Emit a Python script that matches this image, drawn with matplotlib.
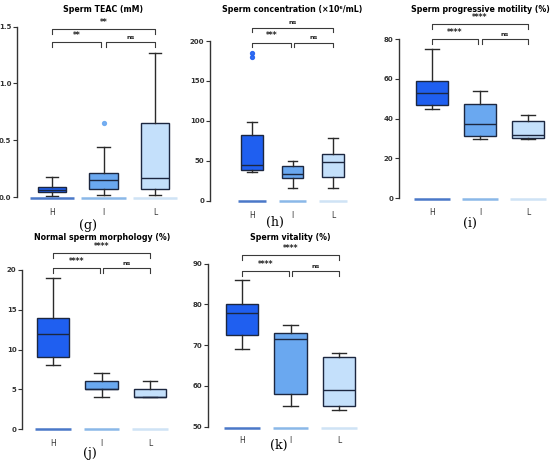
import matplotlib
matplotlib.use('Agg')
import matplotlib.pyplot as plt

W, H = 550, 462

groups = ['H', 'I', 'L']
box_colors = ['#1f5ff0', '#6aa8f0', '#c4e0fb']
base_colors = ['#4a78c8', '#8ab8e8', '#cfe3f5']
edge = '#1c2740'

# panel g - sperm TEAC
teac_lo = [0.01, 0.02, 0.02]
teac_q1 = [0.04, 0.07, 0.07]
teac_med = [0.06, 0.15, 0.17]
teac_q3 = [0.09, 0.21, 0.65]
teac_hi = [0.18, 0.44, 1.27]
teac_out = [[], [0.65], []]
teac_sig = ['**', '**', 'ns']   # H-L, H-I, I-L

# panel h - concentration
conc_lo = [36, 16, 16]
conc_q1 = [38, 29, 30]
conc_med = [45, 33, 49]
conc_q3 = [82, 43, 59]
conc_hi = [98, 50, 79]
conc_out = [[180, 185], [], []]
conc_sig = ['ns', '***', 'ns']

# panel i - progressive motility
mot_lo = [45, 30, 30]
mot_q1 = [47, 31.5, 30.2]
mot_med = [53, 37.5, 32]
mot_q3 = [59, 47.5, 39]
mot_hi = [75, 54, 42]
mot_out = [[], [], []]
mot_sig = ['****', '****', 'ns']

# panel j - morphology
morph_lo = [8, 4, 4]
morph_q1 = [9, 5, 4]
morph_med = [12, 5, 4]
morph_q3 = [14, 6, 5]
morph_hi = [19, 7, 6]
morph_out = [[], [], []]
morph_sig = ['****', '****', 'ns']

# panel k - vitality
vit_lo = [69, 55, 54]
vit_q1 = [72.5, 58, 55]
vit_med = [78, 71.5, 59]
vit_q3 = [80, 73, 67]
vit_hi = [86, 75, 68]
vit_out = [[], [], []]
vit_sig = ['****', '****', 'ns']

fig = plt.figure(figsize=(5.5, 4.62), dpi=100)


def make_ax(x0px, x2px, spine_px, ya, ya_px, yb, yb_px, ylim):
    per = (x2px - x0px) / 2.0
    xl = (spine_px - x0px) / per
    xr = 2.55
    left = spine_px
    right = x0px + xr * per
    yper = (ya_px - yb_px) / (yb - ya)
    bot = ya_px + (ya - ylim[0]) * yper
    top = yb_px - (ylim[1] - yb) * yper
    ax = fig.add_axes([left / W, 1 - bot / H, (right - left) / W, (bot - top) / H])
    ax.set_xlim(xl, xr)
    ax.set_ylim(*ylim)
    return ax


def draw(ax, lo, q1, med, q3, hi, out, sig, base, ticks, ticklabels,
         bw, lw_base, lev_lo, lev_hi, tip, sig_off):
    stats = []
    for k in range(3):
        stats.append(dict(whislo=lo[k], q1=q1[k], med=med[k], q3=q3[k],
                          whishi=hi[k], fliers=out[k]))
    bp = ax.bxp(stats, positions=[0, 1, 2], widths=bw, patch_artist=True,
                showfliers=True, capwidths=bw * 0.45,
                boxprops=dict(edgecolor=edge, linewidth=1.0),
                medianprops=dict(color=edge, linewidth=1.0),
                whiskerprops=dict(color='#2a2a2a', linewidth=1.0),
                capprops=dict(color='#2a2a2a', linewidth=1.0))
    for k, patch in enumerate(bp['boxes']):
        patch.set_facecolor(box_colors[k])
    for k, fl in enumerate(bp['fliers']):
        fl.set(marker='o', markersize=2.8, markerfacecolor=box_colors[k],
               markeredgecolor=box_colors[k], alpha=0.9)
    for k in range(3):
        ax.hlines(base, k - lw_base / 2, k + lw_base / 2, color=base_colors[k],
                  linewidth=1.8, zorder=3)
    # significance brackets
    specs = [(0, 2, lev_hi, sig[0]), (0, 0.96, lev_lo, sig[1]),
             (1.04, 2, lev_lo, sig[2])]
    for a, b, y, s in specs:
        ax.plot([a, a, b, b], [y - tip, y, y, y - tip], color='#3a3a3a',
                linewidth=0.8, clip_on=False)
        ax.text((a + b) / 2, y + sig_off, s, ha='center', va='bottom',
                fontsize=4.5 if s == 'ns' else 5.5, fontweight='bold',
                color='#222222', clip_on=False)
    ax.set_yticks(ticks)
    ax.set_yticklabels(ticklabels)
    ax.spines['left'].set_bounds(ticks[0], ticks[-1])
    ax.spines['left'].set_color('#333333')
    ax.spines['left'].set_linewidth(1.0)
    for s in ['top', 'right', 'bottom']:
        ax.spines[s].set_visible(False)
    ax.tick_params(axis='y', length=3, width=0.8, labelsize=5, pad=1,
                   colors='#333333')
    for t in ax.get_yticklabels():
        t.set_fontweight('bold')
    ax.set_xticks([0, 1, 2])
    ax.set_xticklabels(groups)
    ax.tick_params(axis='x', length=0, labelsize=5.5, pad=4, colors='#333333')
    ax.patch.set_alpha(0)


def label(xpx, ypx, s, **kw):
    fig.text(xpx / W, 1 - ypx / H, s, ha='center', va='center', **kw)


tsize = 5.7

# (g)
ax = make_ax(52, 155, 17, 0.0, 197, 1.5, 26.7, (-0.05, 1.6))
draw(ax, teac_lo, teac_q1, teac_med, teac_q3, teac_hi, teac_out, teac_sig,
     -0.01, [0, 0.5, 1.0, 1.5], ['0.0', '0.5', '1.0', '1.5'],
     0.56, 0.87, 1.365, 1.48, 0.04, 0.02)
label(103, 9.5, 'Sperm TEAC (mM)', fontsize=tsize, fontweight='bold')
label(88, 225, '(g)', fontsize=9, family='DejaVu Serif')

# (h)
ax = make_ax(252, 333, 210, 0, 200.7, 200, 41, (-6, 240))
draw(ax, conc_lo, conc_q1, conc_med, conc_q3, conc_hi, conc_out, conc_sig,
     0, [0, 50, 100, 150, 200], ['0', '50', '100', '150', '200'],
     0.52, 0.69, 198, 216.7, 6, 3)
label(292, 9.5, 'Sperm concentration (×10\u2076/mL)', fontsize=tsize,
      fontweight='bold')
label(275, 222, '(h)', fontsize=9, family='DejaVu Serif')

# (i)
ax = make_ax(432, 528, 399, 0, 198.3, 80, 39, (-2, 95))
draw(ax, mot_lo, mot_q1, mot_med, mot_q3, mot_hi, mot_out, mot_sig,
     -0.3, [0, 20, 40, 60, 80], ['0', '20', '40', '60', '80'],
     0.67, 0.75, 79.8, 87.5, 2.4, 1)
label(480, 9.5, 'Sperm progressive motility (%)', fontsize=tsize,
      fontweight='bold')
label(470, 223, '(i)', fontsize=9, family='DejaVu Serif')

# (j)
ax = make_ax(53, 150, 22, 0, 429, 20, 270, (-0.5, 24))
draw(ax, morph_lo, morph_q1, morph_med, morph_q3, morph_hi, morph_out,
     morph_sig, 0, [0, 5, 10, 15, 20], ['0', '5', '10', '15', '20'],
     0.66, 0.73, 20.2, 22.1, 0.6, 0.25)
label(102, 238, 'Normal sperm morphology (%)', fontsize=tsize,
      fontweight='bold')
label(90, 453, '(j)', fontsize=9, family='DejaVu Serif')

# (k)
ax = make_ax(242, 339, 208, 50, 426.7, 90, 263.7, (49, 95))
draw(ax, vit_lo, vit_q1, vit_med, vit_q3, vit_hi, vit_out, vit_sig,
     49.75, [50, 60, 70, 80, 90], ['50', '60', '70', '80', '90'],
     0.68, 0.73, 88.3, 92.1, 1.2, 0.5)
label(290, 238, 'Sperm vitality (%)', fontsize=tsize, fontweight='bold')
label(279, 445, '(k)', fontsize=9, family='DejaVu Serif')

fig.savefig('out.png', dpi=100)
